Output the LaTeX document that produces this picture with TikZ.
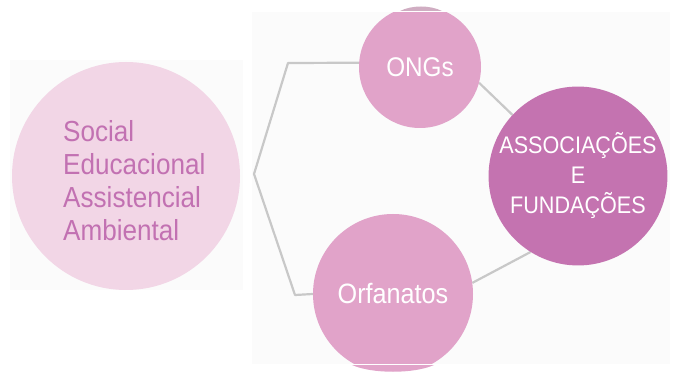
\documentclass[tikz,border=0pt]{standalone}
\usepackage{fontspec}
\setmainfont{Liberation Sans}
\newfontfamily\narrowsans[FakeStretch=0.9]{Liberation Sans}
\pgfdeclarelayer{background}
\pgfsetlayers{background,main}
\definecolor{panelgray}{HTML}{FBFBFB}
\definecolor{lightpink}{HTML}{F2D6E6}
\definecolor{midpink}{HTML}{E1A3C9}
\definecolor{deeppink}{HTML}{C473B0}
\definecolor{textpink}{HTML}{C271B2}
\definecolor{linegray}{HTML}{C8C8C8}
\tikzset{
  bubble/.style={circle, inner sep=0pt, text=white, align=center},
  link/.style={draw=linegray, line width=2.2pt, line join=round},
}
\begin{document}
\begin{tikzpicture}[x=1pt, y=-1pt]
\useasboundingbox (0,0) rectangle (675,374);

% faint panels behind the groups
\begin{pgfonlayer}{background}
  \fill[panelgray] (10,60) rectangle (243,290);
  \fill[panelgray] (252,12) rectangle (670,364);
\end{pgfonlayer}

% edge slivers of the clipped circles
\fill[midpink!70!gray!80!white] (400,11) .. controls (412,5) and (430,5) .. (442,11) -- cycle;
\fill[midpink] (352,365) .. controls (372,374) and (414,374) .. (434,365) -- cycle;

\begin{scope}
  \clip (0,12.5) rectangle (675,363);
  \node[bubble, fill=lightpink, minimum size=228pt] (topics) at (126,176) {};
  \node[bubble, fill=midpink, minimum size=122pt, font=\narrowsans\fontsize{27}{30}\selectfont] (ongs) at (420,67) {ONGs};
  \node[bubble, fill=midpink, minimum size=160pt, font=\narrowsans\fontsize{28}{30}\selectfont] (orf) at (393,294) {Orfanatos};
  \node[bubble, fill=deeppink, minimum size=178pt, font=\narrowsans\fontsize{24}{30}\selectfont] (assoc) at (578,176) {ASSOCIAÇÕES\\E\\FUNDAÇÕES};
\end{scope}

\node[anchor=west, text=textpink, align=left, inner sep=0pt,
      font=\narrowsans\fontsize{29}{33}\selectfont] (topictext) at (63,181)
  {Social\\Educacional\\Assistencial\\Ambiental};

% connectors
\coordinate (b1) at (288,63);
\coordinate (b2) at (254,174);
\coordinate (b3) at (295,295);
\begin{pgfonlayer}{background}
  \draw[link] (ongs.176) -- (b1) -- (b2) -- (b3) -- (orf.west);
  \draw[link] (ongs.-15) -- (assoc.137);
  \draw[link] (orf.8) -- (assoc.238);
\end{pgfonlayer}
\end{tikzpicture}
\end{document}
